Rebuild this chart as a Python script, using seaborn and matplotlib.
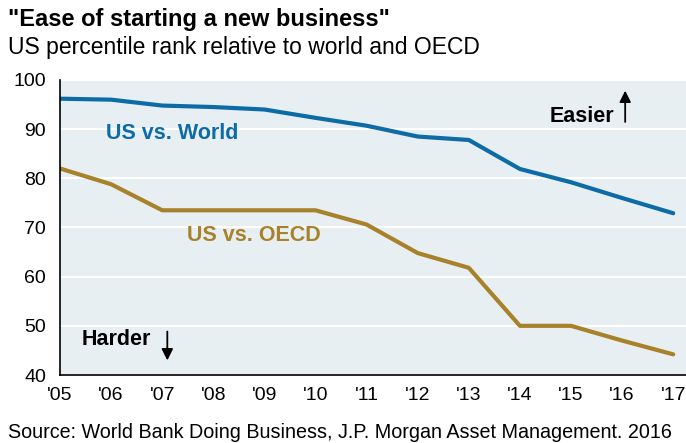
import pandas as pd
import numpy as np
import matplotlib
matplotlib.use("Agg")
import matplotlib.pyplot as plt
import seaborn as sns

# data
years = list(range(2005, 2018))
tick_labels = ["'05", "'06", "'07", "'08", "'09", "'10", "'11", "'12", "'13", "'14", "'15", "'16", "'17"]
us_world = [96.2, 96.0, 94.8, 94.5, 94.0, 92.3, 90.7, 88.5, 87.8, 81.9, 79.2, 76.0, 72.9]
us_oecd = [82.0, 78.8, 73.5, 73.5, 73.5, 73.5, 70.6, 64.8, 61.8, 50.0, 50.0, 47.0, 44.2]

df = pd.DataFrame({"year": years * 2,
                   "rank": us_world + us_oecd,
                   "series": ["US vs. World"] * len(years) + ["US vs. OECD"] * len(years)})

sns.set_style("white")
plt.rcParams['font.family'] = ['Liberation Sans', 'DejaVu Sans']
plt.rcParams['text.color'] = 'black'

blue = "#0D6BA6"
gold = "#A8822A"

fig = plt.figure(figsize=(6.86, 4.43), dpi=100)
ax = fig.add_axes([60 / 686, 68 / 443, 626 / 686, 295 / 443])
ax.set_facecolor("#E8EFF3")

sns.lineplot(data=df, x="year", y="rank", hue="series",
             palette={"US vs. World": blue, "US vs. OECD": gold},
             linewidth=3, legend=False, ax=ax)

ax.set_xlim(2005, 2017.25)
ax.set_ylim(40, 100)
ax.set_yticks(range(40, 101, 10))
ax.set_xticks(years)
ax.set_xticklabels(tick_labels)
ax.yaxis.grid(True, color="white", linewidth=1.5)
ax.set_axisbelow(True)
ax.set_xlabel("")
ax.set_ylabel("")
for s in ["top", "right"]:
    ax.spines[s].set_visible(False)
for s in ["left", "bottom"]:
    ax.spines[s].set_color("black")
    ax.spines[s].set_linewidth(1.2)
ax.tick_params(axis="both", direction="out", length=6, width=1, color="black",
               labelsize=14, labelcolor="black")
ax.tick_params(axis="x", pad=3)
ax.tick_params(axis="y", pad=4)

# series labels
ax.text(2007.2, 89.2, "US vs. World", color=blue, fontsize=15.5, fontweight="bold",
        ha="center", va="center")
ax.text(2008.8, 68.4, "US vs. OECD", color=gold, fontsize=15.5, fontweight="bold",
        ha="center", va="center")

# direction hints
ax.text(2015.85, 92.5, "Easier", fontsize=15.5, fontweight="bold", ha="right", va="center")
ax.annotate("", xy=(2016.06, 98.4), xytext=(2016.06, 90.9),
            arrowprops=dict(arrowstyle="-|>", color="black", lw=1.3, mutation_scale=17))
ax.text(2005.43, 47.2, "Harder", fontsize=15.5, fontweight="bold", ha="left", va="center")
ax.annotate("", xy=(2007.1, 42.4), xytext=(2007.1, 49.4),
            arrowprops=dict(arrowstyle="-|>", color="black", lw=1.3, mutation_scale=17))

fig.text(0.012, 0.955, "\"Ease of starting a new business\"", fontsize=17,
         fontweight="bold", ha="left", va="center")
fig.text(0.012, 0.893, "US percentile rank relative to world and OECD", fontsize=16.5,
         ha="left", va="center")
fig.text(0.012, 0.023, "Source: World Bank Doing Business, J.P. Morgan Asset Management. 2016",
         fontsize=14.2, ha="left", va="center")

fig.savefig("out.png", dpi=100)
